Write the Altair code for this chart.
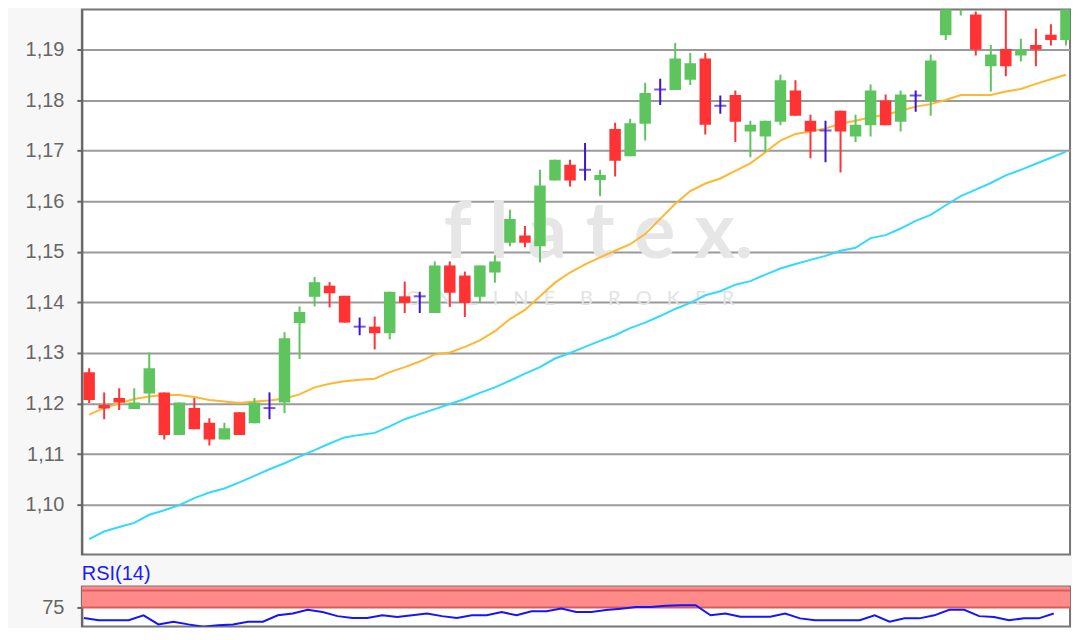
import altair as alt
import pandas as pd

# ---- candle data (index 0..65) ----
OPEN = [1.1262, 1.1197, 1.1211, 1.1189, 1.1220, 1.1222, 1.1138, 1.1191, 1.1162, 1.1129,
        1.1183, 1.1161, 1.1191, 1.1202, 1.1359, 1.1411, 1.1433, 1.1413, 1.1352, 1.1352,
        1.1339, 1.1412, 1.1412, 1.1379, 1.1473, 1.1453, 1.1411, 1.1459, 1.1518, 1.1532,
        1.1511, 1.1641, 1.1672, 1.1662, 1.1642, 1.1743, 1.1689, 1.1753, 1.1821, 1.1820,
        1.1840, 1.1882, 1.1789, 1.1810, 1.1738, 1.1728, 1.1757, 1.1819, 1.1759, 1.1740,
        1.1779, 1.1728, 1.1750, 1.1799, 1.1757, 1.1809, 1.1799, 1.1928, 1.1979, 1.1969,
        1.1867, 1.1901, 1.1888, 1.1909, 1.1929, 1.1919]
CLOSE = [1.1207, 1.1190, 1.1202, 1.1202, 1.1270, 1.1138, 1.1202, 1.1149, 1.1129, 1.1151,
         1.1138, 1.1202, 1.1191, 1.1329, 1.1381, 1.1440, 1.1418, 1.1360, 1.1352, 1.1339,
         1.1421, 1.1399, 1.1412, 1.1473, 1.1419, 1.1399, 1.1473, 1.1481, 1.1565, 1.1518,
         1.1631, 1.1682, 1.1641, 1.1662, 1.1652, 1.1680, 1.1754, 1.1814, 1.1821, 1.1882,
         1.1873, 1.1751, 1.1789, 1.1757, 1.1751, 1.1759, 1.1839, 1.1769, 1.1738, 1.1740,
         1.1738, 1.1751, 1.1819, 1.1750, 1.1811, 1.1809, 1.1878, 1.1981, 1.2015, 1.1900,
         1.1890, 1.1867, 1.1900, 1.1900, 1.1919, 1.2030]
HIGH = [1.1270, 1.1222, 1.1230, 1.1230, 1.1301, 1.1222, 1.1202, 1.1211, 1.1171, 1.1162,
        1.1183, 1.1211, 1.1222, 1.1341, 1.1392, 1.1450, 1.1440, 1.1413, 1.1370, 1.1372,
        1.1421, 1.1441, 1.1421, 1.1481, 1.1481, 1.1461, 1.1473, 1.1493, 1.1583, 1.1551,
        1.1662, 1.1682, 1.1682, 1.1715, 1.1662, 1.1755, 1.1763, 1.1834, 1.1842, 1.1913,
        1.1893, 1.1893, 1.1809, 1.1819, 1.1759, 1.1759, 1.1850, 1.1839, 1.1771, 1.1759,
        1.1779, 1.1771, 1.1831, 1.1811, 1.1819, 1.1819, 1.1890, 1.1981, 1.2025, 1.1975,
        1.1909, 1.1983, 1.1921, 1.1941, 1.1950, 1.2040]
LOW = [1.1201, 1.1169, 1.1187, 1.1189, 1.1201, 1.1129, 1.1138, 1.1149, 1.1117, 1.1129,
       1.1138, 1.1161, 1.1169, 1.1181, 1.1288, 1.1392, 1.1390, 1.1360, 1.1335, 1.1307,
       1.1327, 1.1379, 1.1379, 1.1379, 1.1391, 1.1371, 1.1400, 1.1439, 1.1511, 1.1509,
       1.1479, 1.1641, 1.1629, 1.1641, 1.1610, 1.1649, 1.1689, 1.1720, 1.1790, 1.1820,
       1.1830, 1.1732, 1.1773, 1.1717, 1.1687, 1.1697, 1.1750, 1.1769, 1.1685, 1.1677,
       1.1657, 1.1717, 1.1728, 1.1750, 1.1738, 1.1777, 1.1769, 1.1919, 1.1967, 1.1888,
       1.1817, 1.1847, 1.1876, 1.1867, 1.1908, 1.1908]
MA_FAST = [1.1178, 1.1191, 1.1200, 1.1209, 1.1214, 1.1217, 1.1217, 1.1213, 1.1207, 1.1204,
           1.1201, 1.1204, 1.1206, 1.1210, 1.1218, 1.1232, 1.1239, 1.1244, 1.1247, 1.1249,
           1.1262, 1.1272, 1.1283, 1.1297, 1.1301, 1.1312, 1.1325, 1.1343, 1.1367, 1.1385,
           1.1412, 1.1439, 1.1459, 1.1475, 1.1489, 1.1502, 1.1515, 1.1535, 1.1565, 1.1595,
           1.1620, 1.1635, 1.1645, 1.1660, 1.1675, 1.1697, 1.1720, 1.1733, 1.1738, 1.1744,
           1.1753, 1.1759, 1.1766, 1.1771, 1.1779, 1.1787, 1.1792, 1.1800, 1.1810, 1.1810,
           1.1810, 1.1817, 1.1822, 1.1832, 1.1841, 1.1850]
MA_SLOW = [1.0932, 1.0947, 1.0956, 1.0964, 1.0980, 1.0989, 1.0999, 1.1013, 1.1024, 1.1032,
           1.1044, 1.1057, 1.1070, 1.1082, 1.1095, 1.1108, 1.1121, 1.1133, 1.1138, 1.1142,
           1.1155, 1.1169, 1.1179, 1.1189, 1.1199, 1.1209, 1.1221, 1.1232, 1.1245, 1.1259,
           1.1272, 1.1289, 1.1300, 1.1312, 1.1324, 1.1335, 1.1349, 1.1360, 1.1373, 1.1387,
           1.1399, 1.1414, 1.1422, 1.1435, 1.1442, 1.1455, 1.1467, 1.1476, 1.1484, 1.1492,
           1.1502, 1.1508, 1.1527, 1.1533, 1.1546, 1.1561, 1.1573, 1.1592, 1.1610, 1.1623,
           1.1636, 1.1651, 1.1662, 1.1674, 1.1686, 1.1698]
RSI = [59.4, 56.1, 56.1, 56.1, 63.4, 50.0, 54.0, 50.0, 46.7, 48.8,
       50.0, 54.0, 54.0, 63.4, 66.2, 71.6, 68.3, 62.2, 59.4, 59.4,
       63.4, 61.0, 63.4, 66.2, 62.2, 59.4, 63.4, 63.4, 68.3, 63.4,
       69.5, 69.5, 73.5, 68.3, 68.3, 71.1, 73.2, 75.6, 75.6, 77.4,
       78.4, 78.4, 63.4, 66.2, 61.3, 61.3, 61.3, 66.2, 58.9, 56.1,
       56.1, 56.1, 56.1, 63.4, 54.0, 58.9, 58.9, 63.4, 71.6, 71.6,
       62.2, 61.0, 56.1, 58.9, 58.9, 66.2]
PRICE_TICKS = [1.10, 1.11, 1.12, 1.13, 1.14, 1.15, 1.16, 1.17, 1.18, 1.19]
RSI_TICKS = [75]
RSI_UPPER = 75
RSI_TOP = 100

IDX = list(range(len(OPEN)))
kind = ["up" if c > o else ("down" if c < o else "flat") for o, c in zip(OPEN, CLOSE)]
candles = pd.DataFrame({"i": IDX, "open": OPEN, "close": CLOSE, "high": HIGH,
                        "low": LOW, "kind": kind})
ma = pd.DataFrame({"i": IDX, "fast": MA_FAST, "slow": MA_SLOW})
rsi = pd.DataFrame({"i": IDX, "rsi": RSI})

GREEN, RED, BLUE = "#5ec55e", "#ff3333", "#3d14d2"
FONT = "Liberation Sans"
PLOT_W = 990

xs = alt.Scale(domain=[-0.485, 65.27], nice=False, zero=False, padding=0)
ys = alt.Scale(domain=[1.09014, 1.19789], nice=False, zero=False, padding=0)
X = alt.X("i:Q", scale=xs, axis=None)

yaxis = alt.Axis(values=PRICE_TICKS, labelExpr="replace(format(datum.value, '.2f'), '.', ',')",
                 labelFontSize=20, labelFont=FONT, labelColor="#666666", labelPadding=13,
                 tickSize=5, tickColor="#666666", tickWidth=2, domainColor="#666666",
                 domainWidth=2, grid=True, gridColor="#9a9a9a", gridWidth=2,
                 minExtent=73, maxExtent=73, title=None)

color = alt.Color("kind:N", scale=alt.Scale(domain=["up", "down", "flat"],
                                            range=[GREEN, RED, BLUE]), legend=None)

wm = pd.DataFrame({"i": [33.9, 32.0], "y": [1.1488, 1.1395],
                   "t": ["f\u00a0l\u00a0a\u00a0t\u00a0e\u00a0x.",
                         "\u2002\u00a0".join(list("ONLINE")) + "\u2003\u2002" + "\u2002\u00a0".join(list("BROKER"))],
                   "s": [76, 20]})
base_wm = alt.Chart(wm).encode(x=alt.X("i:Q", scale=xs, axis=None),
                               y=alt.Y("y:Q", scale=ys, axis=yaxis), text="t:N")
wm1 = base_wm.transform_filter("datum.s > 50").mark_text(
    fontSize=78, font="Lato", fontWeight="bold", color="#e6e6e6", align="center",
    baseline="alphabetic")
wm2 = base_wm.transform_filter("datum.s < 50").mark_text(
    fontSize=20, font="Lato", color="#e3e3e3", align="center", baseline="alphabetic")

fast = alt.Chart(ma).mark_line(color="#ffb732", strokeWidth=2, clip=True).encode(
    x=X, y=alt.Y("fast:Q", scale=ys))
slow = alt.Chart(ma).mark_line(color="#33d9ff", strokeWidth=2, clip=True).encode(
    x=X, y=alt.Y("slow:Q", scale=ys))
wicks = alt.Chart(candles).mark_rule(strokeWidth=2, clip=True).encode(
    x=X, y=alt.Y("low:Q", scale=ys), y2="high:Q", color=color)
bodies = alt.Chart(candles).transform_filter("datum.kind != 'flat'").mark_bar(
    size=11.5, clip=True).encode(x=X, y=alt.Y("open:Q", scale=ys), y2="close:Q", color=color)
dojis = alt.Chart(candles).transform_filter("datum.kind == 'flat'").mark_tick(
    orient="horizontal", size=12, thickness=2, color=BLUE, clip=True).encode(
    x=X, y=alt.Y("open:Q", scale=ys))

main = alt.layer(wm1, wm2, fast, slow, wicks, bodies, dojis).properties(
    width=PLOT_W, height=546,
    view=alt.ViewBackground(fill="white", stroke="#777777", strokeWidth=2))

# ---- RSI panel ----
RSI_DOMAIN = [47, 106]
rs = alt.Scale(domain=RSI_DOMAIN, nice=False, zero=False, padding=0)
rx = alt.Scale(domain=[-0.134, 66.09], nice=False, zero=False, padding=0)
raxis = alt.Axis(values=RSI_TICKS, labelFontSize=20, labelFont=FONT, labelColor="#666666",
                 labelPadding=13, tickSize=5, tickColor="#666666", tickWidth=2,
                 domainColor="#666666", domainWidth=2, grid=False,
                 minExtent=73, maxExtent=73, title=None)
band_df = pd.DataFrame({"lo": [RSI_UPPER], "hi": [RSI_DOMAIN[1]]})
band = alt.Chart(band_df).mark_rect(color="#ff8a8a").encode(
    y=alt.Y("lo:Q", scale=rs, axis=raxis), y2="hi:Q")
lines_df = pd.DataFrame({"v": [RSI_UPPER, RSI_TOP]})
lvl = alt.Chart(lines_df).mark_rule(color="#d95c5c", strokeWidth=2).encode(
    y=alt.Y("v:Q", scale=rs))
rline = alt.Chart(rsi).mark_line(color="#1414ff", strokeWidth=2, clip=True).encode(
    x=alt.X("i:Q", scale=rx, axis=None), y=alt.Y("rsi:Q", scale=rs))
rsi_panel = alt.layer(band, lvl, rline).properties(
    width=PLOT_W, height=40,
    title=alt.TitleParams("RSI(14)", anchor="start", fontSize=20, font=FONT,
                          fontWeight="normal", color="#1a1aff", offset=3, frame="group"),
    view=alt.ViewBackground(fill="white", stroke="#777777", strokeWidth=2))

chart = alt.vconcat(main, rsi_panel, spacing=7).properties(
    padding=0, background="#f7f7f7")

chart.save("out.html", embed_options={"renderer": "svg", "actions": False})
